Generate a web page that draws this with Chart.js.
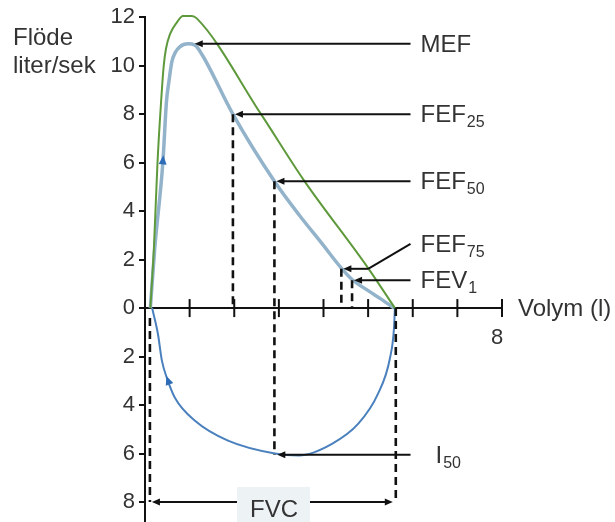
<!DOCTYPE html>
<html>
<head>
<meta charset="utf-8">
<script src="https://cdn.jsdelivr.net/npm/chart.js@4.4.1/dist/chart.umd.min.js"></script>
<style>
  html, body { margin: 0; padding: 0; background: #fff; }
  #wrap { width: 615px; height: 522px; position: relative; }
</style>
</head>
<body>
<div id="wrap"><canvas id="flowChart"></canvas></div>
<script>
// --- DATA ---

// predicted (green) expiratory curve
const predX = [0.12, 0.2, 0.28, 0.36, 0.42, 0.47, 0.56, 0.72, 0.85, 1.05, 1.16, 2.6, 3.55, 5.0, 5.6];
const predY = [0, 2.5, 6.0, 8.5, 10.0, 10.7, 11.3, 11.8, 12.05, 12.05, 11.95, 8.0, 5.3, 1.65, 0];

// measured expiratory curve (light blue)
const expX = [0.12, 0.22, 0.4, 0.48, 0.54, 0.6, 0.68, 0.78, 0.96, 1.12, 1.28, 1.97, 2.9, 3.45, 3.95, 4.4, 4.64, 5.0, 5.3, 5.58];
const expY = [0, 2.5, 6.0, 8.5, 9.4, 10.15, 10.55, 10.78, 10.9, 10.85, 10.45, 8.0, 5.23, 3.85, 2.7, 1.65, 1.18, 0.72, 0.36, 0];

// inspiratory curve (blue, below zero)
const inspX = [0.16, 0.29, 0.38, 0.49, 0.67, 1.12, 1.86, 2.91, 3.45, 4.19, 4.78, 5.22, 5.49, 5.58, 5.6];
const inspY = [0, -1.07, -2.18, -2.88, -3.7, -4.65, -5.47, -6.0, -6.08, -5.6, -4.77, -3.54, -2.06, -0.82, 0];

// axis ticks
const yTickValues = [-8, -6, -4, -2, 0, 2, 4, 6, 8, 10, 12];
const xTickValues = [0, 1, 2, 3, 4, 5, 6, 7, 8];
const xLabeledTicks = [8];

// marked points on the loop
const markName = ['MEF', 'FEF', 'FEF', 'FEF', 'FEV', 'I'];
const markSub = ['', '25', '50', '75', '1', '50'];
const markX = [1.07, 1.97, 2.9, 4.4, 4.64, 2.92];
const markY = [10.9, 8.0, 5.23, 1.62, 1.15, -6.05];
const markDropTo = [null, 0, -6.05, 0, 0, null];
const markLabelY = [10.9, 8.0, 5.23, 2.65, 1.15, -6.05];

// FVC span
const fvcStart = 0.11;
const fvcEnd = 5.62;
const fvcLevel = -8;

// direction arrows on the blue curves
const dirArrowX = [0.41, 0.48];
const dirArrowY = [6.3, -2.8];
const dirFromX = [0.36, 0.62];
const dirFromY = [5.0, -3.5];

function toPoints(xs, ys) {
    return xs.map((x, i) => ({ x: x, y: ys[i] }));
}

const FONT = '"Liberation Sans", Arial, sans-serif';
const INK = '#333333';

function arrowHead(ctx, x, y, angle, len, half, color) {
    ctx.save();
    ctx.fillStyle = color;
    ctx.translate(x, y);
    ctx.rotate(angle);
    ctx.beginPath();
    ctx.moveTo(0, 0);
    ctx.lineTo(-len, -half);
    ctx.lineTo(-len, half);
    ctx.closePath();
    ctx.fill();
    ctx.restore();
}

function line(ctx, x1, y1, x2, y2, dash) {
    ctx.save();
    ctx.strokeStyle = '#111';
    ctx.lineWidth = dash ? 2.6 : 2;
    ctx.setLineDash(dash || []);
    ctx.beginPath();
    ctx.moveTo(x1, y1);
    ctx.lineTo(x2, y2);
    ctx.stroke();
    ctx.restore();
}

function subLabel(ctx, main, sub, x, baseline) {
    ctx.save();
    ctx.fillStyle = INK;
    ctx.textAlign = 'left';
    ctx.textBaseline = 'alphabetic';
    ctx.font = '24px ' + FONT;
    ctx.fillText(main, x, baseline);
    const w = ctx.measureText(main).width;
    if (sub) {
        ctx.font = '16px ' + FONT;
        ctx.fillText(sub, x + w + 1, baseline + 5);
    }
    ctx.restore();
}

// --- ANNOTATION PLUGIN ---
const annotate = {
    id: 'annotate',
    afterDatasetsDraw(chart) {
        const ctx = chart.ctx;
        const sx = chart.scales.x, sy = chart.scales.y;
        const px = v => sx.getPixelForValue(v);
        const py = v => sy.getPixelForValue(v);
        const y0 = py(0);

        // x tick marks crossing the axis
        xTickValues.forEach(v => {
            if (v === 0) return;
            line(ctx, px(v), y0 - 9, px(v), y0 + 9);
        });
        // y axis runs on below the last tick
        line(ctx, px(0), py(-8), px(0), chart.height);

        // direction arrows on the curves
        dirArrowX.forEach((x, i) => {
            const a = Math.atan2(py(dirArrowY[i]) - py(dirFromY[i]), px(x) - px(dirFromX[i]));
            arrowHead(ctx, px(x), py(dirArrowY[i]), a, 9, 4, '#2f6cb8');
        });

        // dashed drops
        markX.forEach((x, i) => {
            if (markDropTo[i] === null) return;
            line(ctx, px(x), py(markY[i]), px(x), py(markDropTo[i]), [8, 5]);
        });
        line(ctx, px(fvcStart), y0 + 10, px(fvcStart), py(fvcLevel), [8, 5]);
        line(ctx, px(fvcEnd), y0, px(fvcEnd), py(fvcLevel), [8, 5]);

        // pointer arrows and labels
        const tailX = px(5.95);
        markX.forEach((x, i) => {
            const tipX = px(x) + 2, tipY = py(markY[i]);
            const ly = py(markLabelY[i]);
            if (markLabelY[i] !== markY[i]) {
                const elbowX = px(5.0);
                line(ctx, tailX, ly, elbowX, tipY);
                line(ctx, elbowX, tipY, tipX + 6, tipY);
            } else {
                line(ctx, tailX, tipY, tipX + 6, tipY);
            }
            arrowHead(ctx, tipX, tipY, Math.PI, 8, 3.5, '#111');
            const lx = markName[i] === 'I' ? tailX + 25 : tailX + 10;
            subLabel(ctx, markName[i], markSub[i], lx, ly + 8);
        });

        // FVC double arrow with label box
        const fy = py(fvcLevel);
        const fl = px(fvcStart) + 2, fr = px(fvcEnd) - 3;
        line(ctx, fl + 6, fy, fr - 6, fy);
        arrowHead(ctx, fl, fy, Math.PI, 8, 3.5, '#111');
        arrowHead(ctx, fr, fy, 0, 8, 3.5, '#111');
        ctx.save();
        ctx.fillStyle = '#edf2f5';
        ctx.fillRect(237, fy - 15, 73, chart.height - fy + 15);
        ctx.fillStyle = INK;
        ctx.font = '24px ' + FONT;
        ctx.textAlign = 'center';
        ctx.textBaseline = 'alphabetic';
        ctx.fillText('FVC', 274, fy + 15);
        ctx.restore();

        // axis titles
        ctx.save();
        ctx.fillStyle = INK;
        ctx.font = '24px ' + FONT;
        ctx.textAlign = 'left';
        ctx.textBaseline = 'alphabetic';
        ctx.fillText('Flöde', 13, 45);
        ctx.fillText('liter/sek', 13, 73);
        ctx.textBaseline = 'middle';
        ctx.fillText('Volym (l)', px(8) + 16, y0 + 1);
        ctx.restore();
    }
};

// --- CHART ---
const ctx = document.getElementById('flowChart').getContext('2d');
new Chart(ctx, {
    type: 'scatter',
    data: {
        datasets: [
            {
                label: 'Förväntad',
                data: toPoints(predX, predY),
                showLine: true,
                borderColor: '#5e9a3c',
                borderWidth: 2,
                pointRadius: 0,
                cubicInterpolationMode: 'monotone'
            },
            {
                label: 'Utandning',
                data: toPoints(expX, expY),
                showLine: true,
                borderColor: '#93b3cb',
                borderWidth: 3.5,
                pointRadius: 0,
                cubicInterpolationMode: 'monotone'
            },
            {
                label: 'Inandning',
                data: toPoints(inspX, inspY),
                showLine: true,
                borderColor: '#4a80bd',
                borderWidth: 2,
                pointRadius: 0,
                cubicInterpolationMode: 'monotone'
            }
        ]
    },
    options: {
        responsive: true,
        maintainAspectRatio: false,
        animation: false,
        clip: false,
        layout: { padding: { top: 16, right: 113, bottom: 20, left: 0 } },
        plugins: {
            legend: { display: false },
            tooltip: { enabled: false }
        },
        scales: {
            x: {
                type: 'linear',
                min: 0,
                max: 8,
                position: { y: 0 },
                afterBuildTicks: s => { s.ticks = xTickValues.map(v => ({ value: v })); },
                grid: { display: false },
                border: { display: true, color: '#111', width: 2 },
                ticks: {
                    autoSkip: false,
                    maxRotation: 0,
                    padding: 9,
                    labelOffset: -5,
                    color: INK,
                    font: { family: FONT, size: 22 },
                    callback: v => xLabeledTicks.includes(v) ? String(v) : ''
                }
            },
            y: {
                type: 'linear',
                min: -8,
                max: 12,
                afterBuildTicks: s => { s.ticks = yTickValues.map(v => ({ value: v })); },
                afterFit: s => { s.width = 145; },
                grid: { drawOnChartArea: false, drawTicks: true, tickLength: 6, color: '#111', lineWidth: 2 },
                border: { display: true, color: '#111', width: 2 },
                ticks: {
                    autoSkip: false,
                    padding: 4,
                    color: INK,
                    font: { family: FONT, size: 22 },
                    callback: v => String(Math.abs(v))
                }
            }
        }
    },
    plugins: [annotate]
});
</script>
</body>
</html>
